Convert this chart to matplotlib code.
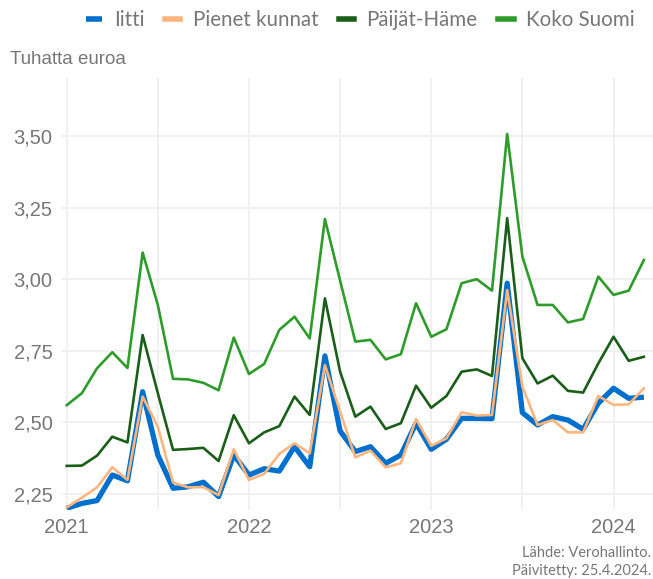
import matplotlib
matplotlib.use("Agg")
import matplotlib.pyplot as plt
import numpy as np

# kuukaudet 2021-01 ... 2024-03
months = np.arange(39)
year_ticks = [0, 12, 24, 36]
year_labels = ["2021", "2022", "2023", "2024"]
y_ticks = [2.25, 2.50, 2.75, 3.00, 3.25, 3.50]
y_labels = ["2,25", "2,50", "2,75", "3,00", "3,25", "3,50"]

iitti = [2.200, 2.217, 2.227, 2.316, 2.296, 2.607, 2.386, 2.270, 2.275, 2.291,
         2.241, 2.386, 2.316, 2.338, 2.330, 2.415, 2.345, 2.732, 2.470, 2.398,
         2.415, 2.357, 2.386, 2.497, 2.406, 2.441, 2.514, 2.514, 2.513, 2.986,
         2.534, 2.491, 2.520, 2.508, 2.476, 2.567, 2.619, 2.584, 2.588]
pienet = [2.203, 2.237, 2.273, 2.343, 2.299, 2.590, 2.485, 2.290, 2.273, 2.274,
          2.246, 2.406, 2.299, 2.320, 2.390, 2.427, 2.392, 2.700, 2.538, 2.378,
          2.401, 2.343, 2.357, 2.512, 2.418, 2.444, 2.535, 2.524, 2.526, 2.962,
          2.625, 2.491, 2.508, 2.465, 2.465, 2.592, 2.561, 2.563, 2.619]
paijat = [2.348, 2.349, 2.384, 2.450, 2.430, 2.805, 2.602, 2.404, 2.407, 2.411,
          2.365, 2.525, 2.427, 2.465, 2.487, 2.590, 2.526, 2.933, 2.677, 2.520,
          2.555, 2.477, 2.497, 2.628, 2.551, 2.592, 2.677, 2.685, 2.662, 3.213,
          2.724, 2.636, 2.663, 2.610, 2.604, 2.706, 2.799, 2.715, 2.729]
koko = [2.560, 2.602, 2.689, 2.745, 2.690, 3.093, 2.910, 2.652, 2.650, 2.638,
        2.612, 2.796, 2.669, 2.704, 2.823, 2.869, 2.793, 3.210, 2.995, 2.782,
        2.788, 2.720, 2.738, 2.916, 2.799, 2.825, 2.986, 3.000, 2.960, 3.507,
        3.079, 2.910, 2.910, 2.849, 2.861, 3.009, 2.945, 2.960, 3.067]

gray = "#777777"
fig = plt.figure(figsize=(6.53, 5.79), dpi=100)
ax = fig.add_axes([61/653, 1-510/579, 1-61/653, (510-78)/579])

# viivat, Iitti paksuna alimmaisena
ax.plot(months, iitti, color="#0070CC", lw=3.8, label="Iitti", zorder=3, solid_capstyle="butt")
ax.plot(months, pienet, color="#FDB57E", lw=1.9, label="Pienet kunnat", zorder=4)
ax.plot(months, paijat, color="#1A5E1A", lw=1.9, label="Päijät-Häme", zorder=4)
ax.plot(months, koko, color="#2E9C2A", lw=1.9, label="Koko Suomi", zorder=4)

ax.set_xlim(-0.375, 38.6)
ax.set_ylim(2.194, 3.7025)
ax.set_xticks(year_ticks)
ax.set_xticklabels(year_labels)
ax.set_xticks([6, 18, 30], minor=True)
ax.set_yticks(y_ticks)
ax.set_yticklabels(y_labels)
ax.grid(True, which="both", color="#EFEFEF", lw=1.2, zorder=0)
ax.tick_params(which="both", length=0, colors=gray, labelsize=14.5, pad=6)
for t in ax.get_xticklabels() + ax.get_yticklabels():
    t.set_fontfamily("Liberation Sans")
for s in ax.spines.values():
    s.set_visible(False)

fig.text(10/653, 1-60/579, "Tuhatta euroa", color=gray, fontsize=13.5,
         family="Liberation Sans", va="center", ha="left")

leg = fig.legend(loc="center right", bbox_to_anchor=(653/653, 1-20/579), ncol=4,
                 frameon=False, handlelength=0.75, handletextpad=0.6, columnspacing=1.0,
                 prop={"family": "Lato", "size": 14.8})
for h in leg.get_lines():
    h.set_linewidth(4)
for t in leg.get_texts():
    t.set_color(gray)

fig.text(651/653, 1-553/579, "Lähde: Verohallinto.", color=gray, fontsize=10.5,
         family="Lato", ha="right", va="center")
fig.text(651/653, 1-571/579, "Päivitetty: 25.4.2024.", color=gray, fontsize=10.5,
         family="Lato", ha="right", va="center")

fig.savefig("out.png", dpi=100)
